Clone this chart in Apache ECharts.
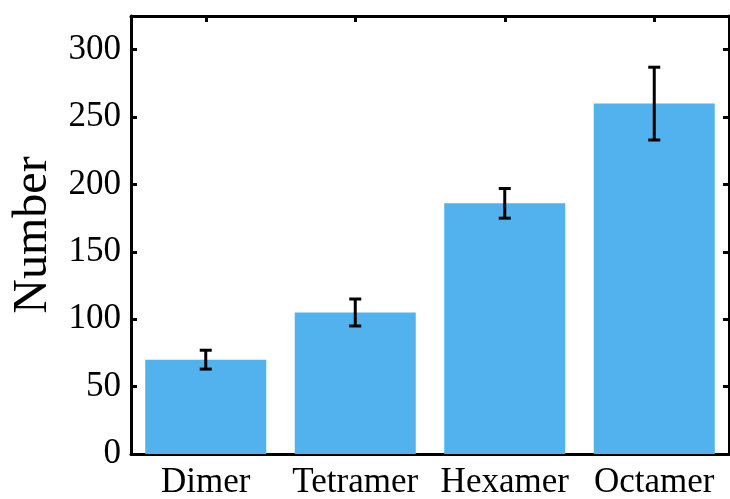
<!DOCTYPE html>
<html>
<head>
<meta charset="utf-8">
<script src="https://cdn.jsdelivr.net/npm/echarts@6/dist/echarts.min.js"></script>
<style>
  html, body { margin: 0; padding: 0; background: #ffffff; }
  #chart { width: 730px; height: 499px; }
</style>
</head>
<body>
<div id="chart"></div>
<script>
// Oligomer counts with standard deviation
const categories = ['Dimer', 'Tetramer', 'Hexamer', 'Octamer'];
const counts = [70, 105, 186, 260];
const errors = [7, 10, 11, 27];
const yTicks = [0, 50, 100, 150, 200, 250, 300];

const FONT = 'Liberation Serif';
const BAR_COLOR = '#51B2EE';

const chart = echarts.init(document.getElementById('chart'));

const frameLine = { color: '#000', width: 3 };
const inTick = { show: true, inside: true, length: 6, lineStyle: { color: '#000', width: 3 } };

const errorData = counts.map((v, i) => [i, v, errors[i]]);

chart.setOption({
  backgroundColor: '#ffffff',
  animation: false,
  grid: { left: 131, right: 1, top: 16, bottom: 45, containLabel: false, outerBoundsMode: 'none' },
  xAxis: [
    {
      type: 'category',
      data: categories,
      position: 'bottom',
      axisLine: { show: true, onZero: false, lineStyle: frameLine },
      axisTick: Object.assign({ alignWithLabel: true }, inTick),
      axisLabel: { color: '#000', fontFamily: FONT, fontSize: 35, margin: 11, interval: 0 },
      splitLine: { show: false }
    },
    {
      type: 'category',
      data: categories,
      position: 'top',
      axisLine: { show: true, onZero: false, lineStyle: frameLine },
      axisTick: Object.assign({ alignWithLabel: true }, inTick),
      axisLabel: { show: false },
      splitLine: { show: false }
    }
  ],
  yAxis: [
    {
      type: 'value',
      min: 0,
      max: 325,
      interval: 50,
      position: 'left',
      name: 'Number',
      nameLocation: 'middle',
      nameGap: 65,
      nameTextStyle: { color: '#000', fontFamily: FONT, fontSize: 48 },
      axisLine: { show: true, lineStyle: frameLine },
      axisTick: inTick,
      axisLabel: {
        color: '#000', fontFamily: FONT, fontSize: 35, margin: 10,
        formatter: v => (yTicks.indexOf(v) >= 0 ? String(v) : '')
      },
      splitLine: { show: false }
    },
    {
      type: 'value',
      min: 0,
      max: 325,
      interval: 50,
      position: 'right',
      axisLine: { show: true, lineStyle: frameLine },
      axisTick: inTick,
      axisLabel: { show: false },
      splitLine: { show: false }
    }
  ],
  series: [
    {
      type: 'bar',
      data: counts,
      barWidth: 121,
      itemStyle: { color: BAR_COLOR },
      z: 2
    },
    {
      type: 'custom',
      data: errorData,
      z: 3,
      renderItem: function (params, api) {
        const idx = api.value(0);
        const v = api.value(1);
        const e = api.value(2);
        const hi = api.coord([idx, v + e]);
        const lo = api.coord([idx, v - e]);
        const half = 6;
        const style = { stroke: '#000', lineWidth: 3, fill: null };
        return {
          type: 'group',
          children: [
            { type: 'line', shape: { x1: hi[0], y1: hi[1], x2: lo[0], y2: lo[1] }, style: style },
            { type: 'line', shape: { x1: hi[0] - half, y1: hi[1], x2: hi[0] + half, y2: hi[1] }, style: style },
            { type: 'line', shape: { x1: lo[0] - half, y1: lo[1], x2: lo[0] + half, y2: lo[1] }, style: style }
          ]
        };
      }
    }
  ]
});
</script>
</body>
</html>
